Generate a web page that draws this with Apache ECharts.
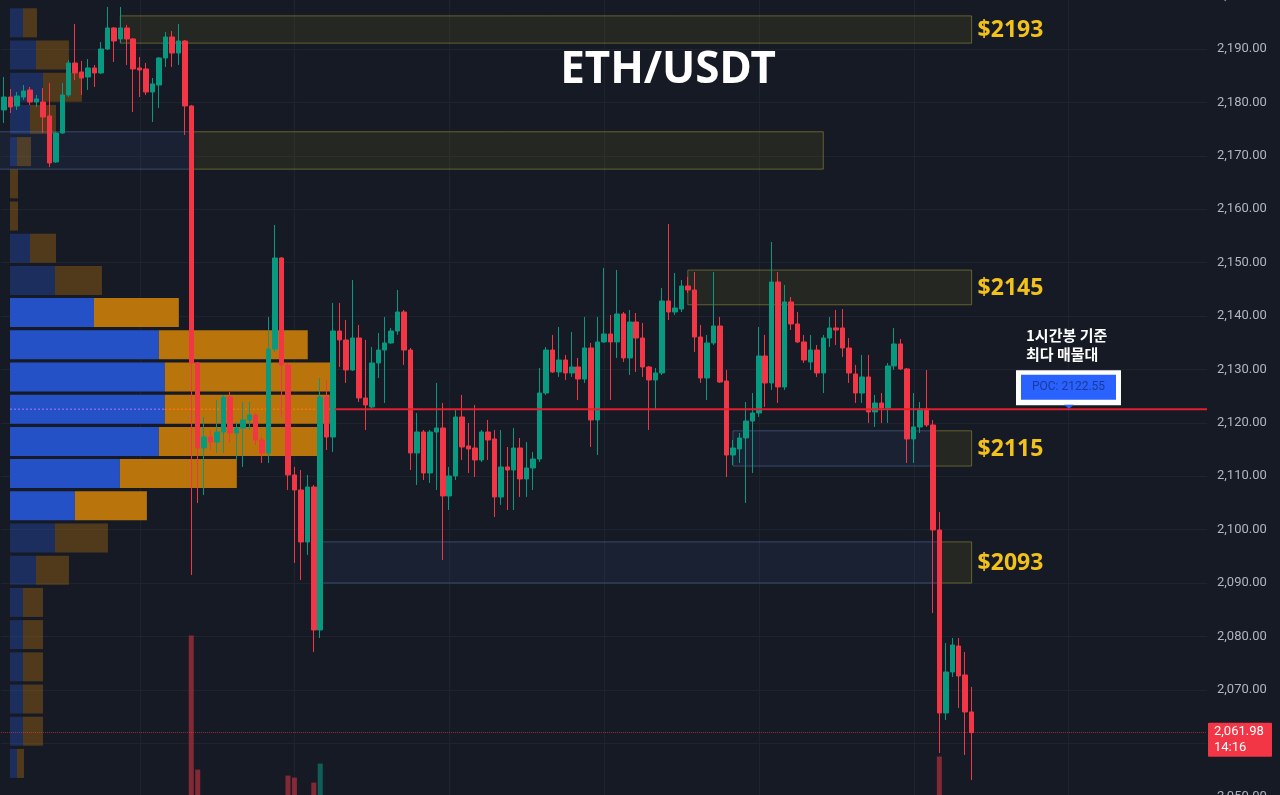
<!DOCTYPE html>
<html><head><meta charset="utf-8">
<script src="https://cdn.jsdelivr.net/npm/echarts@6/dist/echarts.min.js"></script>
<style>html,body{margin:0;padding:0;background:#161a25;}#c{width:1280px;height:795px;}</style>
</head><body><div id="c"></div>
<script>
// ---- price data (1h candles, ETH/USDT) ----
const opens = [2178.58,2181.00,2179.33,2181.00,2182.33,2180.08,2180.08,2177.46,2168.84,2174.27,2181.39,2187.38,2185.70,2184.76,2186.45,2185.51,2190.00,2193.94,2191.88,2193.94,2191.88,2186.45,2186.26,2181.95,2183.26,2188.32,2192.25,2189.25,2191.50,2179.33,2131.20,2115.28,2117.34,2116.40,2118.28,2124.83,2118.09,2119.03,2120.53,2121.47,2116.78,2114.35,2133.82,2150.86,2130.83,2110.23,2107.42,2097.68,2107.98,2081.20,2124.83,2117.34,2137.19,2135.51,2129.89,2135.88,2124.65,2122.96,2131.20,2133.63,2134.95,2137.19,2140.75,2133.63,2114.35,2118.28,2110.60,2118.28,2119.03,2106.30,2110.04,2121.09,2115.66,2115.28,2113.04,2118.28,2116.97,2106.11,2111.73,2111.16,2115.28,2109.48,2111.54,2113.22,2125.58,2133.63,2129.52,2131.76,2129.33,2130.45,2128.20,2134.01,2120.53,2135.14,2136.63,2135.14,2140.38,2132.14,2138.88,2135.88,2130.45,2128.02,2129.33,2142.81,2140.75,2141.31,2145.62,2144.87,2136.07,2128.39,2134.95,2138.13,2127.83,2113.97,2115.10,2117.16,2120.34,2121.84,2132.51,2127.46,2146.37,2126.71,2142.63,2138.51,2135.14,2131.39,2133.63,2129.33,2135.88,2137.76,2137.76,2134.01,2129.14,2125.58,2128.58,2122.03,2123.71,2122.78,2130.64,2134.76,2130.08,2116.97,2119.22,2122.59,2119.59,2099.93,2065.66,2073.34,2078.20,2072.78,2065.85];
const closes = [2181.01,2179.14,2181.20,2182.14,2180.08,2180.64,2177.27,2168.66,2174.27,2181.39,2187.38,2185.51,2184.57,2186.45,2185.51,2190.00,2193.94,2191.50,2193.94,2191.88,2186.26,2186.07,2181.95,2183.45,2188.32,2192.25,2189.25,2191.50,2179.33,2131.20,2115.28,2117.34,2116.40,2118.28,2124.83,2118.09,2119.03,2120.53,2121.47,2116.78,2114.35,2133.82,2150.86,2130.83,2110.23,2107.42,2097.68,2107.98,2081.20,2124.83,2117.34,2137.19,2135.51,2129.89,2135.88,2124.65,2123.34,2131.20,2133.63,2134.95,2137.19,2140.75,2133.63,2114.35,2118.28,2110.60,2118.28,2119.03,2106.30,2110.04,2121.09,2115.47,2115.10,2113.04,2118.28,2116.78,2106.11,2111.73,2111.16,2115.28,2109.48,2111.54,2113.22,2125.58,2133.63,2129.52,2131.76,2129.33,2130.45,2128.20,2134.01,2120.53,2135.14,2136.63,2135.14,2140.38,2132.14,2138.88,2135.88,2130.45,2128.02,2129.33,2142.81,2140.75,2141.50,2145.62,2144.87,2136.07,2128.39,2134.95,2138.13,2127.64,2113.97,2115.28,2117.16,2120.34,2121.84,2132.51,2127.46,2146.37,2126.71,2142.63,2138.51,2135.14,2131.76,2133.63,2129.33,2135.88,2137.76,2137.38,2134.01,2129.33,2125.58,2128.58,2122.03,2123.71,2122.78,2130.64,2134.76,2130.08,2116.97,2119.22,2122.59,2119.59,2099.93,2065.66,2073.34,2078.39,2072.59,2065.85,2061.98];
const lows = [2176.15,2178.02,2178.58,2180.45,2179.52,2179.14,2174.27,2167.91,2168.66,2174.09,2181.00,2184.20,2181.39,2182.33,2182.89,2185.32,2189.82,2187.57,2191.13,2187.01,2178.21,2181.00,2181.39,2176.33,2178.96,2186.63,2186.63,2187.01,2173.90,2091.50,2104.98,2106.48,2114.91,2114.35,2114.35,2116.22,2113.04,2111.73,2118.65,2115.85,2112.48,2112.48,2133.26,2121.09,2107.42,2093.75,2090.56,2095.25,2077.08,2079.70,2114.91,2114.54,2130.45,2127.46,2129.70,2123.90,2118.65,2122.40,2128.39,2123.71,2134.76,2136.45,2130.83,2111.16,2108.35,2109.29,2108.73,2107.42,2094.31,2103.67,2109.29,2113.04,2110.60,2109.85,2112.66,2113.04,2102.36,2104.61,2103.67,2103.67,2106.11,2106.11,2107.42,2112.66,2125.21,2129.33,2128.58,2128.02,2128.58,2124.27,2127.46,2115.47,2113.97,2134.95,2124.27,2132.14,2131.39,2128.95,2129.52,2128.58,2118.65,2122.40,2128.95,2139.25,2140.19,2140.75,2144.31,2133.26,2127.46,2124.27,2134.57,2127.46,2109.85,2112.10,2112.48,2104.98,2110.60,2121.09,2122.96,2126.15,2123.71,2126.15,2137.38,2134.95,2131.20,2129.89,2128.58,2125.58,2134.20,2134.57,2132.33,2127.46,2123.71,2123.71,2119.97,2119.22,2119.97,2119.97,2129.89,2129.89,2112.48,2112.48,2118.09,2119.22,2084.38,2058.16,2064.35,2072.40,2066.59,2057.79,2053.11];
const highs = [2184.76,2182.51,2181.95,2183.26,2182.89,2181.39,2182.70,2183.64,2174.46,2183.64,2187.94,2194.69,2187.76,2188.13,2187.01,2191.32,2197.87,2194.12,2197.87,2194.50,2192.06,2188.50,2187.38,2184.57,2188.50,2193.19,2193.37,2194.69,2191.69,2179.52,2131.39,2121.09,2118.65,2124.27,2125.21,2125.77,2120.15,2123.90,2123.90,2121.84,2117.34,2139.82,2157.05,2151.05,2131.20,2111.73,2111.16,2110.23,2108.35,2128.39,2128.02,2142.44,2142.44,2139.25,2146.74,2138.32,2135.51,2134.20,2136.82,2139.82,2137.76,2144.87,2141.13,2134.01,2121.84,2118.65,2118.65,2127.46,2123.71,2111.73,2122.40,2125.21,2119.97,2123.34,2118.65,2120.53,2118.65,2118.65,2115.47,2119.03,2117.16,2116.41,2114.54,2130.26,2134.20,2136.45,2137.94,2132.70,2137.00,2132.14,2139.82,2134.95,2139.82,2148.99,2140.19,2148.62,2140.75,2141.13,2140.56,2138.69,2130.64,2130.26,2145.25,2157.23,2148.05,2146.74,2147.31,2148.24,2138.32,2136.45,2148.24,2139.82,2129.89,2116.78,2118.09,2123.90,2125.58,2137.94,2136.45,2153.86,2148.24,2145.81,2143.56,2140.75,2136.45,2136.45,2134.57,2136.45,2139.82,2141.13,2141.31,2135.88,2130.83,2132.70,2132.70,2125.21,2125.58,2131.20,2137.76,2135.70,2130.26,2125.58,2123.90,2129.89,2120.53,2103.30,2078.76,2079.70,2079.70,2077.08,2070.53];
// volume (only the bars that rise into view; arbitrary units)
const volumes = {29:161, 30:27, 44:21, 45:19, 48:14, 49:33, 145:40};
const totalSlots = 187;   // candle slots incl. empty space on the right
const lastTime = '14:16';

// ---- volume profile (bins from low price up) ----
const profileLow = 2053.2, profileStep = 6.03;
const profileBuy  = [7,13,13,13,13,13,26,45,65,110,149,155,155,149,84,45,20,0,0,7,20,33,26,13];
const profileSell = [7,20,20,20,20,20,33,53,72,117,159,165,166,149,85,47,26,8,8,14,26,39,33,14];
const vaLowBin = 8, vaHighBin = 14, pocBin = 11;
const pocPrice = 2122.55;

// ---- zones: [startCandle, endCandle, top, bottom, kind(0 blue / 1 olive)] ----
const zones = [[18,150,2196.2,2191.1,1],[-1,29,2174.5,2167.5,0],[29,127,2174.5,2167.5,1],[106,150,2148.6,2142.1,1],[113,144,2118.5,2111.9,0],[144,150,2118.5,2111.9,1],[49,145,2097.7,2090.0,0],[145,150,2097.7,2090.0,1]];
const zoneLabels = ['$2193','','','$2145','','$2115','','$2093'];
const vGridIdx = [21,45,69,93,117,141,165];

const UP='#089981', DOWN='#f23645', BG='#161a25', GRID='#1f2330';
const cats=[]; for(let i=0;i<totalSlots;i++) cats.push(String(i));
const candleData = opens.map((o,i)=>[o,closes[i],lows[i],highs[i]]);
const volData = opens.map((o,i)=> volumes[i]!==undefined ? {value:volumes[i], itemStyle:{color: closes[i]>=o ? 'rgba(8,153,129,0.55)':'rgba(242,54,69,0.5)'}} : null);
const profileData = profileBuy.map((b,i)=>[i,b,profileSell[i]]);
const lastClose = closes[closes.length-1];

const chart = echarts.init(document.getElementById('c'), null, {width:1280,height:795});
const fmt = v => v.toLocaleString('en-US',{minimumFractionDigits:2,maximumFractionDigits:2});

chart.setOption({
  backgroundColor: BG,
  animation: false,
  grid: {left:1, right:73, top:-4.4, bottom:-1.6, containLabel:false, outerBoundsMode:'none'},
  xAxis: [
    {type:'category', data:cats, show:true, boundaryGap:true, axisLine:{show:false}, axisTick:{show:false}, axisLabel:{show:false}, splitLine:{show:false}},
    {type:'value', min:-9, max:1198, show:false}
  ],
  yAxis: [
    {type:'value', position:'right', min:2050, max:2200, interval:10, axisLine:{show:false}, axisTick:{show:false},
     axisLabel:{color:'#b2b5be', fontSize:13, fontFamily:'Roboto', margin:10, formatter:fmt},
     splitLine:{lineStyle:{color:GRID, width:1}}},
    {type:'value', min:0, max:800, show:false}
  ],
  series: [
    {type:'custom', name:'vgrid', xAxisIndex:0, yAxisIndex:0, z:0, silent:true,
     data: vGridIdx.map(i=>[i,2100]),
     renderItem:(params,api)=>{ const p=api.coord([api.value(0),2100]); const cs=params.coordSys;
       return {type:'line', shape:{x1:Math.round(p[0])+0.5,y1:cs.y,x2:Math.round(p[0])+0.5,y2:cs.y+cs.height}, style:{stroke:GRID,lineWidth:1}}; }},
    {type:'custom', name:'profile', xAxisIndex:1, yAxisIndex:0, z:1, silent:true, data: profileData,
     renderItem:(params,api)=>{
       const bin=api.value(0), buy=api.value(1), sell=api.value(2);
       const lo=profileLow+bin*profileStep, hi=lo+profileStep;
       const a=api.coord([0,hi]), b=api.coord([buy,lo]), c=api.coord([buy+sell,lo]);
       const y0=a[1]+1.6, h=(b[1]-1.6)-y0;
       const va = bin>=vaLowBin && bin<=vaHighBin;
       const ch=[];
       if(buy>0) ch.push({type:'rect', shape:{x:a[0],y:y0,width:b[0]-a[0],height:h}, style:{fill: va?'#2452c6':'rgba(36,82,198,0.36)'}});
       ch.push({type:'rect', shape:{x:b[0],y:y0,width:c[0]-b[0],height:h}, style:{fill: va?'#b9740c':'rgba(185,116,12,0.36)'}});
       if(bin===pocBin){ const py=api.coord([0,pocPrice])[1];
         ch.push({type:'line', shape:{x1:a[0],y1:py,x2:b[0],y2:py}, style:{stroke:'rgba(150,110,255,0.8)',lineWidth:1.5,lineDash:[2,2]}});
         ch.push({type:'line', shape:{x1:b[0],y1:py,x2:c[0],y2:py}, style:{stroke:'rgba(255,120,0,0.9)',lineWidth:1.5,lineDash:[2,2]}});
       }
       return {type:'group', children:ch};
     }},
    {type:'custom', name:'zones', xAxisIndex:0, yAxisIndex:0, z:2, silent:true, data: zones,
     renderItem:(params,api)=>{
       const s=api.coord([api.value(0),api.value(2)]), e=api.coord([api.value(1),api.value(3)]);
       const kind=api.value(4);
       const ch=[{type:'rect', shape:{x:s[0],y:s[1],width:e[0]-s[0],height:e[1]-s[1]},
         style:{fill: kind===1?'rgba(130,120,20,0.14)':'rgba(70,100,180,0.10)', stroke: kind===1?'rgba(150,140,55,0.6)':'rgba(90,120,170,0.5)', lineWidth:1}}];
       const t=zoneLabels[params.dataIndex];
       if(t) ch.push({type:'text', style:{text:t, x:e[0]+6, y:(s[1]+e[1])/2+1, fill:'#f2c21b', fontSize:23, fontWeight:'bold', fontFamily:'Noto Sans', align:'left', verticalAlign:'middle'}});
       return {type:'group', children:ch};
     }},
    {type:'bar', name:'volume', xAxisIndex:0, yAxisIndex:1, z:2, barWidth:5, data: volData, silent:true},
    {type:'candlestick', name:'ETH/USDT', xAxisIndex:0, yAxisIndex:0, z:3, barWidth:5, data:candleData,
     itemStyle:{color:UP, color0:DOWN, borderColor:UP, borderColor0:DOWN, borderWidth:1},
     markLine:{symbol:'none', silent:true, animation:false,
       data:[{yAxis: lastClose}],
       lineStyle:{color:'rgba(242,54,69,0.55)', type:'dotted', width:1},
       label:{show:false}}},
    {type:'custom', name:'poc', xAxisIndex:1, yAxisIndex:0, z:4, silent:true, data:[[profileBuy[pocBin]+profileSell[pocBin]+5, pocPrice]],
     renderItem:(params,api)=>{ const p=api.coord([api.value(0),api.value(1)]); const cs=params.coordSys;
       return {type:'line', shape:{x1:p[0],y1:p[1],x2:cs.x+cs.width,y2:p[1]}, style:{stroke:'#e0202e',lineWidth:2}}; }}
  ]
});

const py = chart.convertToPixel({yAxisIndex:0}, pocPrice);
const ly = chart.convertToPixel({yAxisIndex:0}, lastClose);
chart.setOption({graphic:{elements:[
  {type:'text', z:100, x:668, y:70, style:{text:'ETH/USDT', fill:'#ffffff', fontSize:44, fontWeight:'bold', fontFamily:'Noto Sans', align:'center', verticalAlign:'middle'}},
  {type:'text', z:100, x:1026, y:py-81, style:{text:'1시간봉 기준', fill:'#ffffff', fontSize:15, fontWeight:'bold', fontFamily:'Noto Sans CJK KR'}},
  {type:'text', z:100, x:1026, y:py-62, style:{text:'최다 매물대', fill:'#ffffff', fontSize:15, fontWeight:'bold', fontFamily:'Noto Sans CJK KR'}},
  {type:'rect', z:100, shape:{x:1016, y:py-39, width:105, height:35}, style:{fill:'#ffffff'}},
  {type:'rect', z:101, shape:{x:1021, y:py-34.5, width:95, height:25}, style:{fill:'#2962ff'}},
  {type:'text', z:102, x:1068.5, y:py-22, style:{text:'POC: '+pocPrice.toFixed(2), fill:'#1d3a99', fontSize:12, fontFamily:'Roboto', align:'center', verticalAlign:'middle'}},
  {type:'polygon', z:100, shape:{points:[[1064,py-4.5],[1074,py-4.5],[1069,py-0.5]]}, style:{fill:'#2962ff'}},
  {type:'rect', z:100, shape:{x:1208, y:ly-10, width:64, height:34, r:1}, style:{fill:DOWN}},
  {type:'text', z:101, x:1214, y:ly-1, style:{text:fmt(lastClose), fill:'#ffffff', fontSize:13, fontFamily:'Roboto', align:'left', verticalAlign:'middle'}},
  {type:'text', z:101, x:1214, y:ly+15, style:{text:lastTime, fill:'#ffffff', fontSize:13, fontFamily:'Roboto', align:'left', verticalAlign:'middle'}}
]}});
</script></body></html>
